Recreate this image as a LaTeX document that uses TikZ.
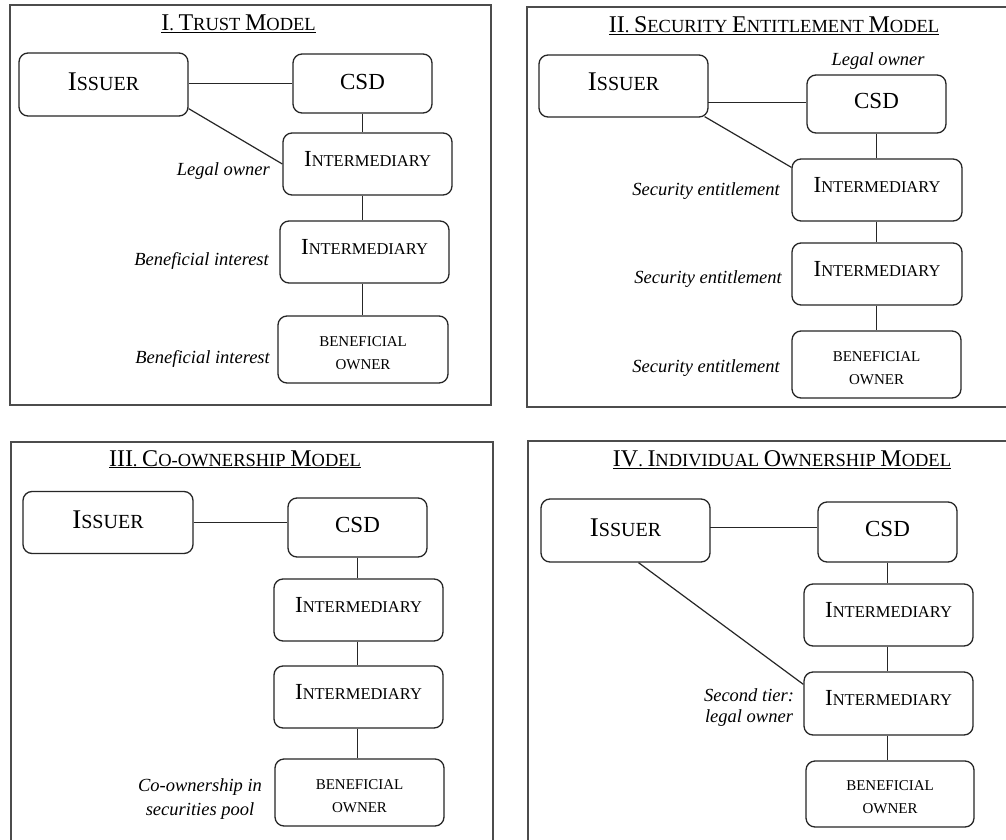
\documentclass[tikz,border=0pt]{standalone}
\usepackage{fontspec}
\setmainfont{Liberation Serif}
\usetikzlibrary{calc}
\newcommand\fs[1]{\fontsize{#1}{#1}\selectfont}
\newcommand\SCbox[2]{{\fs{23}#1}{\fs{16.5}#2}}
\newcommand\SCiss[2]{{\fs{27}#1}{\fs{20}#2}}
\newcommand\SCt[2]{{\fs{24}#1}{\fs{18.5}#2}}
\newcommand\INT{\raisebox{5.5pt}[\height][\depth]{\SCbox{I}{NTERMEDIARY}}}
\newcommand\ISS[1]{\raisebox{#1}[\height][\depth]{\SCiss{I}{SSUER}}}
\newcommand\CSDt[1]{\raisebox{#1}[\height][\depth]{\fs{23}CSD}}
\newcommand\BOt{\rule{0pt}{17pt}BENEFICIAL\\[8pt]OWNER}
\begin{document}
\begin{tikzpicture}[x=1pt,y=-1pt,
  box/.style={draw=black!85, line width=1.3pt, rounded corners=9pt, inner sep=0pt, align=center},
  bobox/.style={box, font=\fs{15}},
  frame/.style={draw=black!70, line width=1.3pt},
  conn/.style={draw=black!85, line width=1.2pt},
  lab/.style={font=\fs{18.5}\itshape, inner sep=0pt, align=center},
  ttl/.style={inner sep=0pt, font=\fs{18.5}}]
\useasboundingbox (0,0) rectangle (1006,840);
\fill[white] (0,0) rectangle (1006,840);
%% Panel I
\draw[frame] (10,5) rectangle (491,405);
\node[ttl, anchor=base] (t1) at (238.5,31) {\underline{\SCt{I}{.} \SCt{T}{RUST} \SCt{M}{ODEL}}};
\node[box, minimum width=169, minimum height=63] (iss1) at (103.5,84.5) {\ISS{2.5pt}};
\node[box, minimum width=139, minimum height=59] (csd1) at (362.5,83.5) {\CSDt{2pt}};
\node[box, minimum width=169, minimum height=62] (ia1) at (367.5,164) {\INT};
\node[box, minimum width=169, minimum height=62] (ib1) at (364.5,252) {\INT};
\node[bobox, minimum width=170, minimum height=67] (bo1) at (363,349.5) {\BOt};
\node[lab, anchor=base east] (l1a) at (270,175) {Legal owner};
\node[lab, anchor=base east] (l1b) at (269,265) {Beneficial interest};
\node[lab, anchor=base east] (l1c) at (270,363) {Beneficial interest};
\draw[conn] (csd1.west) -- (csd1.west -| iss1.east);
\draw[conn] (csd1.south) -- (csd1.south |- ia1.north);
\draw[conn] (csd1.south |- ia1.south) -- (csd1.south |- ib1.north);
\draw[conn] (csd1.south |- ib1.south) -- (csd1.south |- bo1.north);
\draw[conn] ($(iss1.south east)+(0,-8)$) -- (ia1.west);
%% Panel II
\draw[frame] (1010,7) -- (527,7) -- (527,407) -- (1010,407);
\node[ttl, anchor=base] (t2) at (774,33) {\underline{\SCt{II}{.} \SCt{S}{ECURITY} \SCt{E}{NTITLEMENT} \SCt{M}{ODEL}}};
\node[box, minimum width=169, minimum height=62] (iss2) at (623.5,86) {\ISS{4pt}};
\node[box, minimum width=139, minimum height=58] (csd2) at (876.5,104) {\CSDt{3.5pt}};
\node[box, minimum width=170, minimum height=62] (ia2) at (877,190) {\INT};
\node[box, minimum width=170, minimum height=62] (ib2) at (877,274) {\INT};
\node[bobox, minimum width=169, minimum height=67] (bo2) at (876.5,364.5) {\BOt};
\node[lab, anchor=base] (l2o) at (878,66) {Legal owner};
\node[lab, anchor=base east] (l2a) at (780,195) {Security entitlement};
\node[lab, anchor=base east] (l2b) at (782,283) {Security entitlement};
\node[lab, anchor=base east] (l2c) at (780,372) {Security entitlement};
\coordinate (c2) at (708,102.5);
\draw[conn] (c2) -- (c2 -| csd2.west);
\draw[conn] (csd2.south) -- (csd2.south |- ia2.north);
\draw[conn] (csd2.south |- ia2.south) -- (csd2.south |- ib2.north);
\draw[conn] (csd2.south |- ib2.south) -- (csd2.south |- bo2.north);
\draw[conn] ($(iss2.south east)+(-4,-1)$) -- ($(ia2.north west)+(0,9)$);
%% Panel III
\draw[frame] (11,845) -- (11,442) -- (493,442) -- (493,845);
\node[ttl, anchor=base] (t3) at (235,466) {\underline{\SCt{III}{.} \SCt{C}{O-OWNERSHIP} \SCt{M}{ODEL}}};
\node[box, minimum width=170, minimum height=62] (iss3) at (108,522.5) {\ISS{3pt}};
\node[box, minimum width=139, minimum height=59] (csd3) at (357.5,527.5) {\CSDt{3pt}};
\node[box, minimum width=169, minimum height=62] (ia3) at (358.5,610) {\INT};
\node[box, minimum width=169, minimum height=62] (ib3) at (358.5,697) {\INT};
\node[bobox, minimum width=169, minimum height=67] (bo3) at (359.5,792.5) {\BOt};
\node[lab, anchor=base] (l3) at (200,815) {Co-ownership in\\[5.5pt]securities pool};
\draw[conn] (iss3.east) -- (iss3.east -| csd3.west);
\draw[conn] (csd3.south) -- (csd3.south |- ia3.north);
\draw[conn] (csd3.south |- ia3.south) -- (csd3.south |- ib3.north);
\draw[conn] (csd3.south |- ib3.south) -- (csd3.south |- bo3.north);
%% Panel IV
\draw[frame] (1010,441) -- (528,441) -- (528,845);
\node[ttl, anchor=base] (t4) at (782,466) {\underline{\SCt{IV}{.} \SCt{I}{NDIVIDUAL} \SCt{O}{WNERSHIP} \SCt{M}{ODEL}}};
\node[box, minimum width=169, minimum height=63] (iss4) at (625.5,530.5) {\ISS{3pt}};
\node[box, minimum width=139, minimum height=60] (csd4) at (887.5,532) {\CSDt{3pt}};
\node[box, minimum width=169, minimum height=62] (ia4) at (888.5,615) {\INT};
\node[box, minimum width=169, minimum height=63] (ib4) at (888.5,703.5) {\INT};
\node[bobox, minimum width=168, minimum height=66] (bo4) at (890,794) {\BOt};
\node[lab, anchor=base] (l4) at (749,722) {Second tier:\\[2.5pt]legal owner};
\coordinate (c4) at (710,527.5);
\draw[conn] (c4) -- (c4 -| csd4.west);
\draw[conn] (csd4.south) -- (csd4.south |- ia4.north);
\draw[conn] (csd4.south |- ia4.south) -- (csd4.south |- ib4.north);
\draw[conn] (csd4.south |- ib4.south) -- (csd4.south |- bo4.north);
\draw[conn] ($(iss4.south)+(13,0)$) -- ($(ib4.north west)+(0,13)$);
\end{tikzpicture}
\end{document}
